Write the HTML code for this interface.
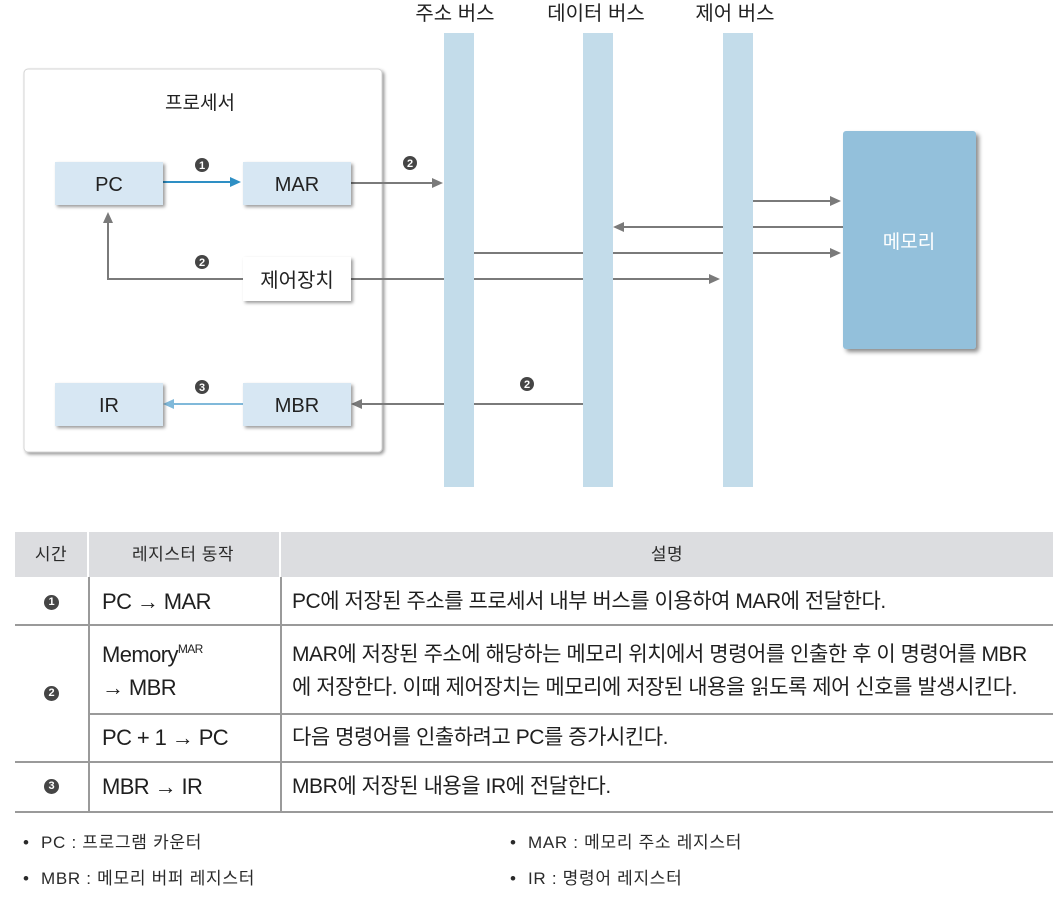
<!DOCTYPE html>
<html><head><meta charset="utf-8">
<style>
html,body{margin:0;padding:0;background:#fff;}
body{width:1056px;height:902px;position:relative;overflow:hidden;font-family:"Liberation Sans","Noto Sans CJK KR",sans-serif;color:#222;}
svg{position:absolute;left:0;top:0;}
.t{position:absolute;white-space:nowrap;font-size:21px;letter-spacing:-0.45px;line-height:26px;color:#1f1f1f;}
.c1{font-size:22px;letter-spacing:-0.6px;}
.h{position:absolute;font-size:17px;color:#2a2a2a;line-height:20px;letter-spacing:0.5px;transform:translateX(-50%);white-space:nowrap;}
.num{position:absolute;width:15px;height:15px;border-radius:50%;background:#454545;color:#fff;font-size:11px;font-weight:bold;line-height:15px;text-align:center;font-family:"Liberation Sans",sans-serif;}
.line{position:absolute;background:#9a9a9a;}
.f{position:absolute;font-size:17px;letter-spacing:0.7px;color:#2a2a2a;white-space:nowrap;line-height:20px;}
sup{font-size:12px;letter-spacing:-0.6px;vertical-align:9px;line-height:0;}
</style></head>
<body>
<svg width="1056" height="500" viewBox="0 0 1056 500">
<defs>
<filter id="sh" x="-10%" y="-10%" width="130%" height="130%"><feDropShadow dx="2" dy="2" stdDeviation="1.5" flood-color="#000" flood-opacity="0.4"/></filter>
<filter id="sh2" x="-10%" y="-10%" width="130%" height="130%"><feDropShadow dx="3" dy="3" stdDeviation="2" flood-color="#000" flood-opacity="0.45"/></filter>
</defs>
<g font-family="Liberation Sans, Noto Sans CJK KR, sans-serif" fill="#222" font-size="20" text-anchor="middle">
<text x="455" y="20">주소 버스</text>
<text x="596" y="20">데이터 버스</text>
<text x="735" y="20">제어 버스</text>
</g>
<!-- processor box -->
<rect x="24" y="69" width="358" height="383" rx="4" fill="#fff" stroke="#d4d4d4" stroke-width="1" filter="url(#sh)"/>
<text x="200" y="109" font-family="Liberation Sans, Noto Sans CJK KR, sans-serif" font-size="19" fill="#222" text-anchor="middle">프로세서</text>
<!-- gray lines -->
<g stroke="#7a7a7a" stroke-width="2" fill="none">
<line x1="351" y1="183" x2="434" y2="183"/>
<path d="M243 279 H108 V221"/>
<line x1="351" y1="279" x2="711" y2="279"/>
<line x1="753" y1="201" x2="831" y2="201"/>
<line x1="843" y1="227" x2="622" y2="227"/>
<line x1="474" y1="253" x2="831" y2="253"/>
<line x1="583" y1="404" x2="360" y2="404"/>
</g>
<g fill="#7a7a7a">
<polygon points="443,183 432,178 432,188"/>
<polygon points="108,212 103,223 113,223"/>
<polygon points="720,279 709,274 709,284"/>
<polygon points="841,201 830,196 830,206"/>
<polygon points="613,227 624,222 624,232"/>
<polygon points="841,253 830,248 830,258"/>
<polygon points="351,404 362,399 362,409"/>
</g>
<!-- blue arrows -->
<line x1="163" y1="182" x2="232" y2="182" stroke="#2e8fc4" stroke-width="2"/>
<polygon points="241,182 230,177 230,187" fill="#2e8fc4"/>
<line x1="243" y1="404" x2="172" y2="404" stroke="#80b9da" stroke-width="2"/>
<polygon points="163,404 174,399 174,409" fill="#80b9da"/>
<!-- buses -->
<rect x="444" y="33" width="30" height="454" fill="#c3dcea"/>
<rect x="583" y="33" width="30" height="454" fill="#c3dcea"/>
<rect x="723" y="33" width="30" height="454" fill="#c3dcea"/>
<!-- memory -->
<rect x="843" y="131" width="133" height="218" rx="3" fill="#93c0db" filter="url(#sh2)"/>
<text x="909" y="248" font-family="Liberation Sans, Noto Sans CJK KR, sans-serif" font-size="19" fill="#fff" text-anchor="middle">메모리</text>
<!-- registers -->
<g filter="url(#sh)">
<rect x="55" y="162" width="108" height="43" fill="#d7e7f3"/>
<rect x="243" y="162" width="108" height="43" fill="#d7e7f3"/>
<rect x="243" y="257" width="108" height="44" fill="#fff"/>
<rect x="55" y="383" width="108" height="43" fill="#d7e7f3"/>
<rect x="243" y="383" width="108" height="43" fill="#d7e7f3"/>
</g>
<g font-family="Liberation Sans, Noto Sans CJK KR, sans-serif" font-size="20" fill="#222" text-anchor="middle">
<text x="109" y="191">PC</text>
<text x="297" y="191">MAR</text>
<text x="297" y="287">제어장치</text>
<text x="109" y="412">IR</text>
<text x="297" y="412">MBR</text>
</g>
<!-- numbered circles -->
<g font-family="Liberation Sans, sans-serif" font-size="11" font-weight="bold" fill="#fff" text-anchor="middle">
<circle cx="202" cy="165" r="7" fill="#454545"/><text x="202" y="169">1</text>
<circle cx="410" cy="163" r="7" fill="#454545"/><text x="410" y="167">2</text>
<circle cx="202" cy="262" r="7" fill="#454545"/><text x="202" y="266">2</text>
<circle cx="202" cy="387" r="7" fill="#454545"/><text x="202" y="391">3</text>
<circle cx="527" cy="384" r="7" fill="#454545"/><text x="527" y="388">2</text>
</g>
</svg>

<!-- table -->
<div style="position:absolute;left:15px;top:532px;width:1038px;height:45px;background:#dcdde0;"></div>
<div style="position:absolute;left:87px;top:532px;width:2px;height:45px;background:#fff;"></div>
<div style="position:absolute;left:279px;top:532px;width:2px;height:45px;background:#fff;"></div>
<div class="h" style="left:51px;top:545px;">시간</div>
<div class="h" style="left:183px;top:545px;">레지스터 동작</div>
<div class="h" style="left:667px;top:545px;">설명</div>

<div class="line" style="left:88px;top:577px;width:1.5px;height:235px;"></div>
<div class="line" style="left:280px;top:577px;width:1.5px;height:235px;"></div>
<div class="line" style="left:15px;top:624px;width:1038px;height:2px;"></div>
<div class="line" style="left:88px;top:713px;width:965px;height:2px;"></div>
<div class="line" style="left:15px;top:761px;width:1038px;height:2px;"></div>
<div class="line" style="left:15px;top:811px;width:1038px;height:2px;"></div>

<div class="num" style="left:44px;top:595px;">1</div>
<div class="num" style="left:44px;top:686px;">2</div>
<div class="num" style="left:44px;top:779px;">3</div>

<div class="t c1" style="left:102px;top:589px;">PC → MAR</div>
<div class="t" style="left:292px;top:589px;">PC에 저장된 주소를 프로세서 내부 버스를 이용하여 MAR에 전달한다.</div>
<div class="t c1" style="left:102px;top:642px;">Memory<sup>MAR</sup></div>
<div class="t c1" style="left:102px;top:675px;">→ MBR</div>
<div class="t" style="left:292px;top:642px;">MAR에 저장된 주소에 해당하는 메모리 위치에서 명령어를 인출한 후 이 명령어를 MBR</div>
<div class="t" style="left:292px;top:675px;">에 저장한다. 이때 제어장치는 메모리에 저장된 내용을 읽도록 제어 신호를 발생시킨다.</div>
<div class="t c1" style="left:102px;top:725px;">PC + 1 → PC</div>
<div class="t" style="left:292px;top:725px;">다음 명령어를 인출하려고 PC를 증가시킨다.</div>
<div class="t c1" style="left:102px;top:774px;">MBR → IR</div>
<div class="t" style="left:292px;top:774px;">MBR에 저장된 내용을 IR에 전달한다.</div>

<!-- footnotes -->
<div class="f" style="left:23px;top:833px;">•</div>
<div class="f" style="left:41px;top:833px;">PC : 프로그램 카운터</div>
<div class="f" style="left:23px;top:869px;">•</div>
<div class="f" style="left:41px;top:869px;">MBR : 메모리 버퍼 레지스터</div>
<div class="f" style="left:510px;top:833px;">•</div>
<div class="f" style="left:528px;top:833px;">MAR : 메모리 주소 레지스터</div>
<div class="f" style="left:510px;top:869px;">•</div>
<div class="f" style="left:528px;top:869px;">IR : 명령어 레지스터</div>
</body></html>
